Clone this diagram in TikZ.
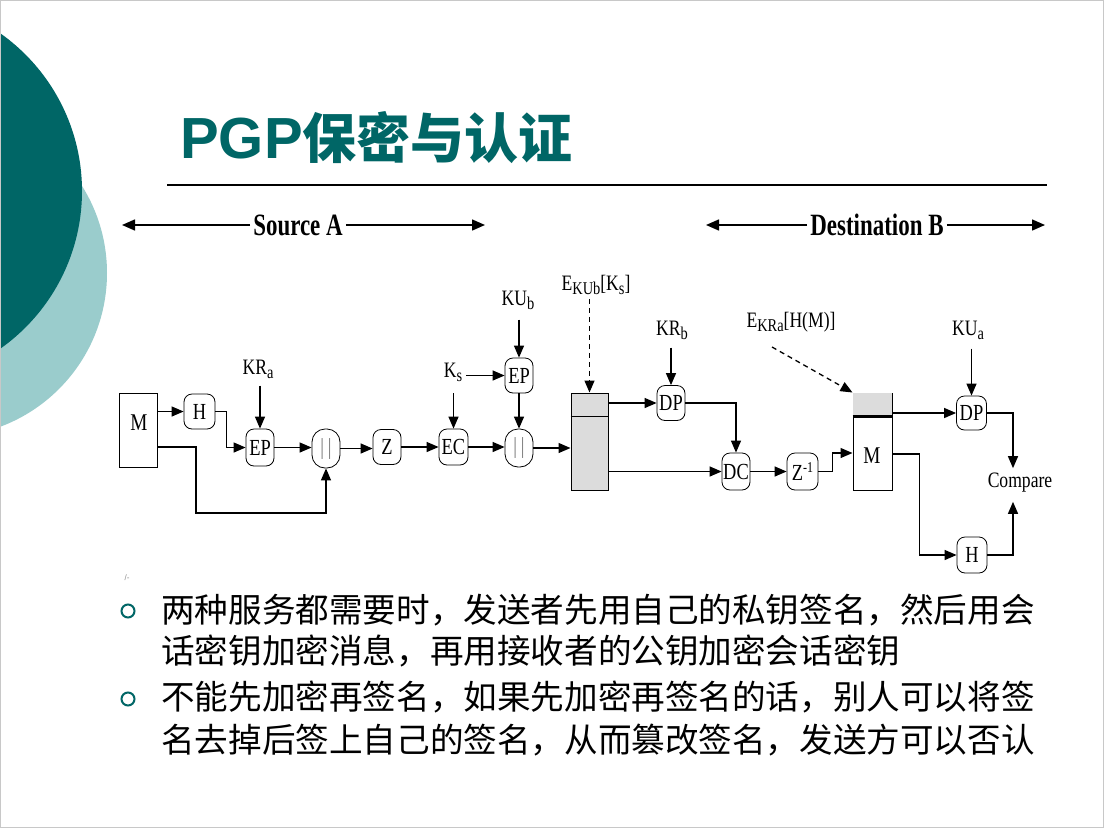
\documentclass[tikz,border=0pt]{standalone}
\usepackage{fontspec}
\setmainfont{Liberation Serif}
\newfontfamily\tms[FakeStretch=0.8]{Liberation Serif}
\newfontfamily\tmsb[FakeStretch=0.74]{Liberation Serif}
\newfontfamily\cjk{Noto Sans CJK SC}
\newfontfamily\hd{Liberation Sans}
\usetikzlibrary{arrows.meta,calc}
\definecolor{tealdark}{HTML}{006666}
\definecolor{teallight}{HTML}{9ACCCC}
\definecolor{boxgray}{HTML}{DCDCDC}
\definecolor{frame}{HTML}{C8C8C8}

% lowered / raised small text for key names
\newcommand\dsub[1]{\raisebox{-0.4ex}{\fontsize{18}{18}\selectfont #1}}
\newcommand\dsup[1]{\raisebox{0.8ex}{\fontsize{15}{15}\selectfont #1}}

\begin{document}
\begin{tikzpicture}[x=1pt,y=-1pt,
  wire/.style={line width=1.3pt},
  arr/.style={wire,-{Triangle[length=12pt,width=10pt]}},
  dasharr/.style={arr,dash pattern=on 5pt off 4pt},
  span/.style={line width=1.5pt,-{Triangle[length=13pt,width=11pt]}},
  op/.style={draw,line width=0.8pt,rounded corners=8pt,inner sep=0pt,
    minimum width=29pt,minimum height=36pt,font=\tms\fontsize{23}{25}\selectfont},
  cat/.style={op,rounded corners=13pt,minimum height=39pt},
  lbl/.style={inner sep=0pt,font=\tms\fontsize{22}{24}\selectfont},
  hdr/.style={inner sep=3pt,font=\tmsb\bfseries\fontsize{31}{33}\selectfont},
  msgbox/.style={draw,line width=1pt,inner sep=0pt,minimum width=38pt,minimum height=97pt},
  body/.style={anchor=west,inner sep=0pt,font=\cjk\fontsize{33.6}{40}\selectfont},
  bullet/.style={draw=tealdark,line width=2pt},
]
\useasboundingbox (0,0) rectangle (1104,828);

% background and slide decoration
\fill[white] (0,0) rectangle (1104,828);
\begin{scope}
  \clip (0,0) rectangle (1104,828);
  \fill[teallight] (-57,273) circle[radius=164pt];
  \fill[tealdark] (-111,191) circle[radius=193pt];
\end{scope}
\draw[frame,line width=1pt] (0.5,0.5) rectangle (1103.5,827.5);

% title
\node[anchor=base west,inner sep=0pt,text=tealdark] (title) at (180,158)
  {\hd\bfseries\fontsize{58}{62}\selectfont PGP\cjk\bfseries\fontsize{54}{62}\selectfont 保密与认证};
\draw[line width=2pt] (167,185) -- (1047,185);

% source / destination spans
\node[hdr] (srcA) at (298,225) {Source A};
\coordinate (srcL) at (122,225);
\coordinate (srcR) at (485,225);
\draw[span] (srcA.west) -- (srcL);
\draw[span] (srcA.east) -- (srcR);
\node[hdr] (dstB) at (877,225) {Destination B};
\coordinate (dstL) at (706,225);
\coordinate (dstR) at (1045,225);
\draw[span] (dstB.west) -- (dstL);
\draw[span] (dstB.east) -- (dstR);

% ---- sender side ----
\node[msgbox,minimum height=74pt] (M1) at (138,430) {};
\node[lbl,font=\tms\fontsize{24}{26}\selectfont] (M1t) at (139,423) {M};
\node[op,minimum width=31pt,minimum height=35pt] (H1) at (199.5,411.5) {H};
\node[op,minimum width=28pt,minimum height=37pt] (EP1) at (260,447.5) {EP};
\node[cat,minimum width=28pt] (CC1) at (326,448.5) {\color{black!55}|\,|};
\node[op,minimum width=28pt,minimum height=35pt] (Z) at (387,447) {Z};
\node[op,minimum width=29pt,minimum height=36pt] (EC) at (453.5,447) {EC};
\node[op,minimum width=28pt,minimum height=35pt] (EP2) at (519,375.5) {EP};
\node[cat,minimum width=28pt,minimum height=38pt] (CC2) at (519,448) {\color{black!55}|\,|};

\node[lbl] (KRa) at (258,369) {KR\dsub{a}};
\node[lbl] (Ks) at (453,372) {K\dsub{s}};
\node[lbl] (KUb) at (518,300) {KU\dsub{b}};

% transmitted message
\node[msgbox,fill=boxgray,minimum width=37pt] (BoxS) at (589.5,441.5) {};
\draw[line width=1pt] ([yshift=-24pt]BoxS.north west) -- ([yshift=-24pt]BoxS.north east);
\node[lbl] (EKUb) at (596,285) {E\dsub{KUb}[K\dsub{s}]};

\coordinate (loopA) at (196,513);
\coordinate (ecin) at (453.5,393);

\draw[arr] (M1.east |- H1.west) -- (H1.west);
\draw[arr] (H1.east) -- ++(11,0) |- (EP1.west);
\draw[arr] ([yshift=-17pt]M1.east) -| (loopA) -| (CC1.south);
\draw[arr,shorten <=7pt] (KRa.south -| EP1.north) -- (EP1.north);
\draw[arr] (EP1.east) -- (EP1.east -| CC1.west);
\draw[arr] (CC1.east) -- (CC1.east -| Z.west);
\draw[arr] (Z.east) -- (Z.east -| EC.west);
\draw[arr] (ecin) -- (EC.north);
\draw[arr] (EC.east) -- (EC.east -| CC2.west);
\draw[arr,shorten <=4pt] (Ks.east |- EP2.west) -- (EP2.west);
\draw[arr,shorten <=10pt] (KUb.south -| EP2.north) -- (EP2.north);
\draw[arr] (EP2.south) -- (CC2.north);
\draw[arr] (CC2.east) -- (CC2.east -| BoxS.west);
\draw[dasharr,shorten <=4pt] (EKUb.south -| BoxS.north) -- (BoxS.north);

% ---- receiver side ----
\node[op,minimum width=28pt,minimum height=35pt] (DP1) at (671,403) {DP};
\node[op,minimum width=28pt,minimum height=37pt] (DC) at (736,471.5) {DC};
\node[op,minimum width=31pt,minimum height=37pt] (Zinv) at (802.5,471.5) {Z\dsup{-1}};
\node[lbl] (KRb) at (672,330) {KR\dsub{b}};

\node[msgbox,minimum width=39pt] (BoxR) at (872.5,441.5) {};
\fill[boxgray] ([xshift=0.5pt,yshift=-0.5pt]BoxR.north west) rectangle ([xshift=-0.5pt,yshift=-24pt]BoxR.north east);
\draw[line width=2.6pt] ([yshift=-24pt]BoxR.north west) -- ([yshift=-24pt]BoxR.north east);
\node[lbl,font=\tms\fontsize{24}{26}\selectfont] (M2t) at (872,456) {M};
\node[lbl] (EKRa) at (791,322) {E\dsub{KRa}[H(M)]};
\coordinate (ekraS) at (772,347);

\node[op,minimum width=30pt,minimum height=34pt] (DP2) at (971.5,413) {DP};
\node[op,minimum width=30pt,minimum height=36pt] (H2) at (972,555) {H};
\node[lbl] (KUa) at (968,330) {KU\dsub{a}};
\node[lbl] (cmp) at (1020,483) {Compare};

\draw[arr] (BoxS.east |- DP1.west) -- (DP1.west);
\draw[arr,shorten <=8pt] (KRb.south -| DP1.north) -- (DP1.north);
\draw[arr] (DP1.east) -| (DC.north);
\draw[arr] (BoxS.east |- DC.west) -- (DC.west);
\draw[arr] (DC.east) -- (DC.east -| Zinv.west);
\draw[arr] (Zinv.east) -- ++(14,0) |- ([yshift=-11.5pt]BoxR.west);
\draw[dasharr] (ekraS) -- (BoxR.north west);
\draw[arr] (BoxR.east |- DP2.west) -- (DP2.west);
\draw[arr,shorten <=9pt] (KUa.south -| DP2.north) -- (DP2.north);
\draw[arr,shorten >=5pt] (DP2.east) -| ([xshift=-7pt]cmp.north);
\draw[arr] ([yshift=-12.5pt]BoxR.east) -- ++(27,0) |- (H2.west);
\draw[arr,shorten >=9pt] (H2.east) -| ([xshift=-7pt]cmp.south);

% stray mark below the figure
\node[inner sep=0pt,text=black!45,font=\hd\fontsize{8}{8}\selectfont] (mark) at (127,578) {/-};

% explanatory bullets
\draw[bullet] (128,611) circle[radius=6.5pt];
\draw[bullet] (128,699) circle[radius=6.5pt];
\node[body] (l1) at (161,610) {两种服务都需要时，发送者先用自己的私钥签名，然后用会};
\node[body] (l2) at (161,651) {话密钥加密消息，再用接收者的公钥加密会话密钥};
\node[body] (l3) at (161,697) {不能先加密再签名，如果先加密再签名的话，别人可以将签};
\node[body] (l4) at (161,740) {名去掉后签上自己的签名，从而篡改签名，发送方可以否认};
\end{tikzpicture}
\end{document}
